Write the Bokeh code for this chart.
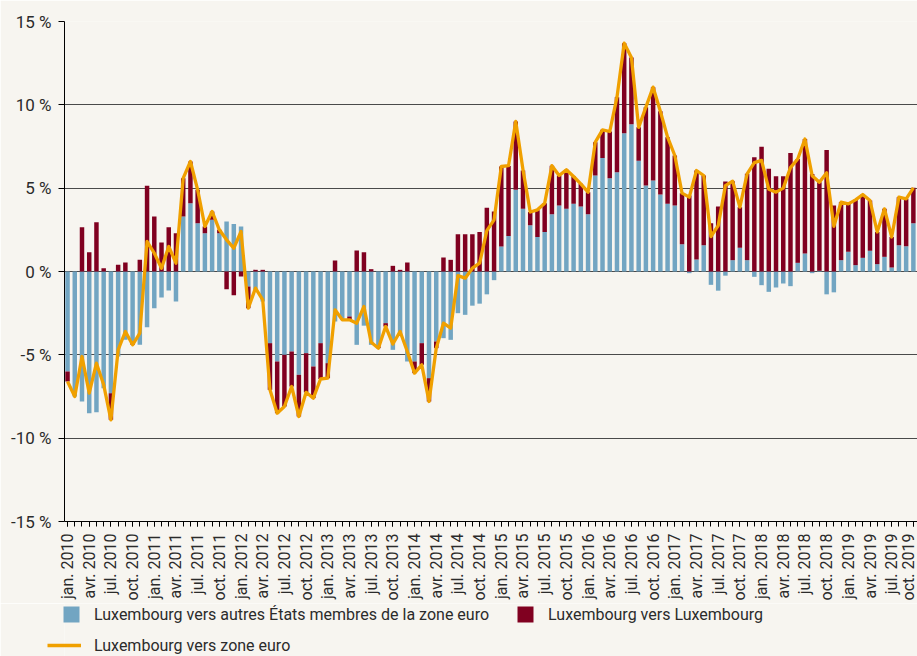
import math
from bokeh.plotting import figure
from bokeh.layouts import column
from bokeh.models import ColumnDataSource, FixedTicker, Legend, LegendItem, Range1d
from bokeh.embed import file_html
from bokeh.resources import INLINE

# ---------------- data (monthly, jan. 2010 .. oct. 2019) ----------------
years = list(range(2010, 2020))
quarter_months = ["jan.", "avr.", "jul.", "oct."]

# Luxembourg vers autres États membres de la zone euro (% contribution)
autres_em = [
    -6.0, -7.5, -7.8, -8.5, -8.44, -7.0, -7.3, -5.1, -4.1, -4.2, -4.4, -3.34,
    -2.2, -1.56, -1.14, -1.8, 3.3, 4.1, 2.9, 2.3, 3.1, 2.3, 3.0, 2.85,
    2.7, -0.9, -1.1, -1.8, -4.3, -5.4, -5.0, -4.8, -6.2, -4.9, -5.7, -4.3,
    -5.5, -3.0, -2.9, -2.7, -4.4, -3.25, -4.4, -4.5, -3.1, -4.7, -3.8, -5.4,
    -5.4, -4.3, -6.4, -4.2, -4.0, -4.1, -2.5, -2.6, -2.05, -1.93, -1.37, -0.52,
    1.5, 2.13, 4.9, 3.76, 2.77, 2.07, 2.37, 3.43, 3.96, 3.76, 4.06, 3.9,
    3.43, 5.76, 6.81, 5.6, 5.96, 8.3, 8.84, 6.65, 5.16, 5.46, 4.62, 4.06,
    3.96, 1.63, -0.1, 0.72, 1.57, -0.8, -1.15, -0.25, 0.68, 1.43, 0.68, -0.32,
    -0.82, -1.22, -0.96, -0.72, -0.88, 0.52, 1.08, -0.1, 0.04, -1.37, -1.25, 0.68,
    1.18, 0.38, 0.82, 1.24, 0.44, 0.88, 0.24, 1.57, 1.51, 2.9,
]

# Luxembourg vers Luxembourg
lux_lux = [
    -0.6, 0.0, 2.66, 1.16, 2.96, 0.2, -1.6, 0.4, 0.54, -0.2, 0.7, 5.14,
    3.3, 1.74, 2.66, 2.3, 2.3, 2.5, 2.0, 0.4, 0.5, 0.2, -1.06, -1.43,
    -0.3, -1.3, 0.1, 0.1, -2.8, -3.1, -3.1, -2.1, -2.5, -2.35, -1.9, -2.15,
    -0.9, 0.66, 0.0, -0.2, 1.26, 1.16, 0.14, -0.1, -0.2, 0.34, 0.1, 0.54,
    -0.7, -1.3, -1.4, -0.4, 0.84, 0.7, 2.24, 2.24, 2.24, 2.37, 3.82, 3.6,
    4.8, 4.2, 4.1, 2.3, 0.8, 1.6, 1.73, 2.92, 1.8, 2.35, 1.65, 1.36,
    1.33, 2.0, 1.7, 2.8, 4.5, 5.4, 4.0, 2.0, 4.7, 5.6, 5.0, 4.0,
    3.0, 3.07, 4.56, 5.34, 4.19, 2.9, 3.9, 5.4, 4.74, 2.43, 5.18, 6.85,
    7.49, 6.16, 5.72, 5.72, 7.11, 6.23, 6.87, 5.85, 5.32, 7.29, 3.96, 3.48,
    2.88, 3.92, 3.8, 3.02, 1.93, 2.88, 1.83, 2.89, 2.85, 2.12,
]

# Luxembourg vers zone euro (line)
zone_euro = [
    -6.6, -7.5, -5.1, -7.3, -5.5, -6.8, -8.9, -4.7, -3.6, -4.4, -3.7, 1.8,
    1.1, 0.2, 1.5, 0.5, 5.6, 6.6, 4.9, 2.7, 3.6, 2.5, 1.9, 1.4,
    2.4, -2.2, -1.0, -1.7, -7.1, -8.5, -8.1, -6.9, -8.7, -7.25, -7.6, -6.45,
    -6.4, -2.3, -2.9, -2.9, -3.1, -2.1, -4.25, -4.6, -3.3, -4.35, -3.6, -4.8,
    -6.1, -5.6, -7.8, -4.6, -3.1, -3.4, -0.25, -0.4, 0.2, 0.5, 2.45, 3.1,
    6.3, 6.35, 9.0, 6.1, 3.57, 3.7, 4.1, 6.35, 5.76, 6.1, 5.7, 5.26,
    4.76, 7.76, 8.5, 8.4, 10.46, 13.7, 12.84, 8.65, 9.86, 11.06, 9.62, 8.06,
    6.96, 4.7, 4.46, 6.06, 5.76, 2.1, 2.75, 5.15, 5.42, 3.86, 5.86, 6.53,
    6.67, 4.94, 4.76, 5.0, 6.23, 6.75, 7.95, 5.75, 5.36, 5.92, 2.71, 4.16,
    4.06, 4.3, 4.62, 4.26, 2.37, 3.76, 2.07, 4.46, 4.36, 5.02,
]

y_ticks = [-15, -10, -5, 0, 5, 10, 15]

label_blue = "Luxembourg vers autres États membres de la zone euro"
label_red = "Luxembourg vers Luxembourg"
label_line = "Luxembourg vers zone euro"

# ---------------- derived table ----------------
n = len(autres_em)
xs = list(range(n))
red_bottom, red_top = [], []
for b, r in zip(autres_em, lux_lux):
    if b * r > 0:
        red_bottom.append(b)
        red_top.append(b + r)
    else:
        red_bottom.append(0.0)
        red_top.append(r)

src = ColumnDataSource(dict(
    x=xs, blue_top=autres_em, blue_bottom=[0.0] * n,
    red_bottom=red_bottom, red_top=red_top, total=zone_euro,
))

tick_labels = [f"{m} {y}" for y in years for m in quarter_months][:(n - 1) // 3 + 1]
major_x = list(range(0, n, 3))

BG = "#f7f5f0"
BLUE = "#72a5c2"
RED = "#800020"
ORANGE = "#f0a000"
TXT = "#2b2b2b"
FONT = "Roboto"
BAR_W = 0.62
LINE_W = 3.3


def add_series(fig):
    b = fig.vbar(x="x", bottom="blue_bottom", top="blue_top", width=BAR_W,
                 fill_color=BLUE, line_color=None, source=src)
    r = fig.vbar(x="x", bottom="red_bottom", top="red_top", width=BAR_W,
                 fill_color=RED, line_color=None, source=src)
    l = fig.line(x="x", y="total", line_color=ORANGE, line_width=LINE_W,
                 line_join="round", source=src)
    return b, r, l


p = figure(
    frame_width=853, frame_height=500,
    x_range=Range1d(-0.42, 117.57), y_range=Range1d(-15, 15),
    output_backend="svg", toolbar_location=None,
    min_border_left=64, min_border_top=21, min_border_right=0, min_border_bottom=82,
    background_fill_color=BG, border_fill_color=BG,
)
p.outline_line_color = None
add_series(p)

# y axis
p.yaxis.ticker = FixedTicker(ticks=y_ticks)
p.yaxis.major_label_overrides = {t: f"{t} %" for t in y_ticks}
p.yaxis.axis_line_color = "black"
p.yaxis.major_tick_line_color = "black"
p.yaxis.major_tick_out = 6
p.yaxis.major_tick_in = 0
p.yaxis.minor_tick_line_color = None
p.yaxis.major_label_standoff = 7
p.yaxis.major_label_text_font = FONT
p.yaxis.major_label_text_font_size = "17px"
p.yaxis.major_label_text_color = TXT

p.ygrid.ticker = FixedTicker(ticks=y_ticks)
p.ygrid.grid_line_color = "#4a4a4a"
p.ygrid.grid_line_width = 1
p.xgrid.visible = False

# x axis
p.xaxis.ticker = FixedTicker(ticks=major_x, minor_ticks=xs)
p.xaxis.major_label_overrides = {t: lab for t, lab in zip(major_x, tick_labels)}
p.xaxis.major_label_orientation = math.pi / 2
p.xaxis.axis_line_color = "black"
p.xaxis.major_tick_line_color = "black"
p.xaxis.minor_tick_line_color = "black"
p.xaxis.major_tick_out = 5
p.xaxis.minor_tick_out = 5
p.xaxis.major_tick_in = 0
p.xaxis.minor_tick_in = 0
p.xaxis.major_label_standoff = 7
p.xaxis.major_label_text_font = FONT
p.xaxis.major_label_text_font_size = "16px"
p.xaxis.major_label_text_color = TXT

# ---------------- legend strip (separate small figure below) ----------------
# Its ranges lie far away from the data, so its series stay hidden and only feed the legend.
leg_h = 656 - (21 + 500 + 82)
q = figure(
    frame_width=917, frame_height=leg_h, x_range=Range1d(-300, -299), y_range=Range1d(-300, -299),
    output_backend="svg", toolbar_location=None,
    x_axis_location=None, y_axis_location=None,
    min_border_left=0, min_border_right=0, min_border_top=0, min_border_bottom=0,
    background_fill_color=BG, border_fill_color=BG,
)
q.outline_line_color = None
q.xgrid.visible = False
q.ygrid.visible = False
lb, lr, ll = add_series(q)

leg_common = dict(
    orientation="horizontal", padding=0, margin=0, border_line_color=None,
    background_fill_alpha=0, label_text_font=FONT, label_text_font_size="16px",
    label_text_color=TXT, label_standoff=13, glyph_height=20,
)
legend1 = Legend(
    items=[LegendItem(label=label_blue, renderers=[lb]),
           LegendItem(label=label_red, renderers=[lr])],
    location=(61, 32), glyph_width=20, spacing=26, **leg_common,
)
legend2 = Legend(
    items=[LegendItem(label=label_line, renderers=[ll])],
    location=(47, 1), glyph_width=34, spacing=0, **leg_common,
)
q.add_layout(legend1)
q.add_layout(legend2)

layout = column(p, q, spacing=0)
open("out.html", "w").write(file_html(layout, INLINE))
